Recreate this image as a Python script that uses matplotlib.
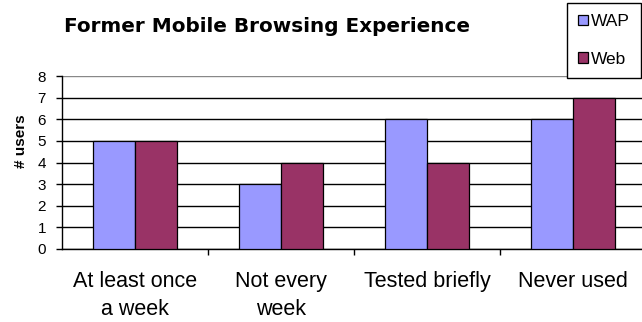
import numpy as np
import matplotlib.pyplot as plt

# data
categories = ['At least once\na week', 'Not every\nweek', 'Tested briefly', 'Never used']
wap = [5, 3, 6, 6]
web = [5, 4, 4, 7]
yticks = [0, 1, 2, 3, 4, 5, 6, 7, 8]

plt.rcParams['font.family'] = ['Liberation Sans', 'DejaVu Sans']

W, H = 642, 322
fig = plt.figure(figsize=(W / 100, H / 100), dpi=100)
# axes in pixel terms: left 62, right 646 (runs past the edge), top 76, bottom 249
ax = fig.add_axes([62 / W, (H - 249) / H, (646 - 62) / W, (249 - 76) / H])

x = np.arange(len(categories))
bw = 0.29
b1 = ax.bar(x - bw / 2, wap, bw, color='#9999ff', edgecolor='black', linewidth=0.9, label='WAP', zorder=3)
b2 = ax.bar(x + bw / 2, web, bw, color='#993366', edgecolor='black', linewidth=0.9, label='Web', zorder=3)

ax.set_xlim(-0.5, len(categories) - 0.5)
ax.set_ylim(0, 8)
ax.set_yticks(yticks)
ax.set_yticklabels([str(v) for v in yticks], fontsize=11)
ax.yaxis.grid(True, color='black', linewidth=1.0)
ax.get_ygridlines()[-1].set_color('#888888')
ax.set_axisbelow(True)

ax.set_xticks(x)
ax.set_xticklabels(categories, fontsize=15.5, linespacing=1.45)
ax.set_xticks(x[:-1] + 0.5, minor=True)
ax.tick_params(axis='x', which='major', length=0, pad=16)
ax.tick_params(axis='x', which='minor', length=4.5, width=1, direction='out')
ax.tick_params(axis='y', length=4.5, width=1, pad=7)

for s in ['top', 'right']:
    ax.spines[s].set_visible(False)
ax.spines['left'].set_linewidth(1)
ax.spines['bottom'].set_linewidth(1)

fig.text(21 / W, 1 - 141 / H, '# users', rotation=90, ha='center', va='center',
         fontsize=11, fontweight='bold')
fig.text(64 / W, 1 - 32 / H, 'Former Mobile Browsing Experience', ha='left', va='baseline',
         fontsize=14.4, fontweight='bold', family='DejaVu Sans')

leg = fig.legend(handles=[b1, b2], labels=['WAP', 'Web'], loc='upper left',
                 bbox_to_anchor=(567 / W, 1 - 3 / H), fontsize=12.5,
                 handlelength=0.55, handleheight=0.55, handletextpad=0.2,
                 labelspacing=1.3, borderpad=0.65, borderaxespad=0,
                 fancybox=False, framealpha=1)
leg.get_frame().set_edgecolor('black')
leg.get_frame().set_linewidth(1)

fig.savefig('out.png', dpi=100)
